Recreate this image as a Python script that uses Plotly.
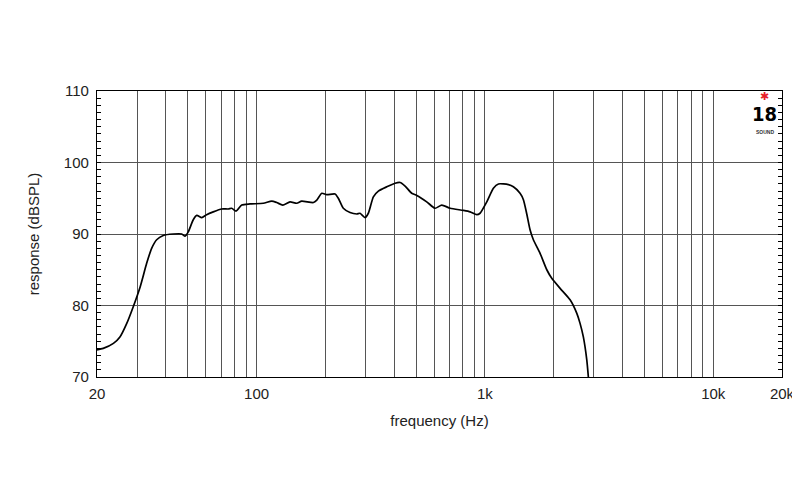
import plotly.graph_objects as go

freq_hz = [20, 21.3, 23.6, 25.2, 27.0, 28.8, 30.9, 33.0, 34.7, 36.5, 39.0, 43.2, 47.0, 48.6,
           50.2, 52.8, 54.7, 57.5, 60.4, 64.6, 70.3, 75.2, 77.8, 81.3, 86.1, 93.6, 107.0,
           116.5, 122.5, 130.2, 140.1, 149.9, 157.6, 177.3, 183.5, 193, 202.8, 220.6, 228,
           239.8, 256.6, 274.5, 283.8, 298.5, 308.6, 324.6, 341.4, 371.6, 404, 425, 447,
           478, 503, 556, 605, 647, 704, 804, 861, 921, 952, 1019, 1089, 1146, 1267, 1332,
           1425, 1474, 1525, 1576, 1630, 1744, 1866, 1962, 2134, 2360, 2526, 2610, 2698,
           2793, 2838]
spl_db = [73.8, 74.0, 74.7, 75.6, 77.5, 79.8, 82.6, 85.9, 88.0, 89.2, 89.8, 90.0, 90.0, 89.7,
          90.3, 92.0, 92.6, 92.3, 92.7, 93.1, 93.5, 93.5, 93.6, 93.2, 94.05, 94.2, 94.3,
          94.6, 94.4, 94.05, 94.5, 94.3, 94.6, 94.4, 94.75, 95.7, 95.5, 95.6, 95.0,
          93.6, 93.0, 92.8, 92.9, 92.3, 92.9, 95.2, 96.0, 96.6, 97.1, 97.2, 96.7,
          95.7, 95.4, 94.5, 93.6, 94.05, 93.6, 93.3, 93.1, 92.7, 92.9, 94.5, 96.4, 97.0, 96.9, 96.6,
          95.7, 94.8, 92.8, 90.6, 89.2, 87.3, 85.0, 83.8, 82.4, 80.8, 78.9, 77.5, 75.6,
          72.4, 70.0]

x_grid = [20, 30, 40, 50, 60, 70, 80, 90, 100, 200, 300, 400, 500, 600, 700, 800, 900,
          1000, 2000, 3000, 4000, 5000, 6000, 7000, 8000, 9000, 10000, 20000]
x_labels = {20: "20", 100: "100", 1000: "1k", 10000: "10k", 20000: "20k"}
y_grid = [70, 80, 90, 100, 110]
y_minor = list(range(70, 111))

fig = go.Figure()
fig.add_trace(go.Scatter(x=freq_hz, y=spl_db, mode="lines",
                         line=dict(color="black", width=1.7, shape="spline", smoothing=0.6),
                         hoverinfo="skip", showlegend=False))
# invisible trace on the secondary y-axis (which carries the horizontal grid lines)
fig.add_trace(go.Scatter(x=[20], y=[70], yaxis="y2", mode="markers",
                         marker=dict(opacity=0), hoverinfo="skip", showlegend=False))

font = dict(family="Liberation Sans, Arial, sans-serif", size=15, color="#222")

# the page body has an 8px margin, so the figure is 792x492 to fill the 800x500 window
fig.update_layout(
    width=792, height=492,
    margin=dict(l=89, r=18, t=83, b=123),
    paper_bgcolor="white", plot_bgcolor="white",
    font=font,
    xaxis=dict(type="log", range=[1.30103, 4.30103], automargin=False,
               tickvals=x_grid, ticktext=[x_labels.get(v, "") for v in x_grid],
               showgrid=True, gridcolor="#555", gridwidth=1,
               showline=True, linecolor="black", linewidth=1.2, mirror=True,
               ticks="", zeroline=False, ticklabelstandoff=3,
               title=dict(text="frequency (Hz)", font=font, standoff=14)),
    yaxis=dict(range=[70, 110], tickvals=y_minor, automargin=False,
               ticktext=[str(v) if v % 10 == 0 else "" for v in y_minor],
               showgrid=False,
               showline=True, linecolor="black", linewidth=1.2, mirror="allticks",
               ticks="inside", ticklen=4, tickwidth=1, tickcolor="black",
               zeroline=False, ticklabelstandoff=4,
               title=dict(text="response (dBSPL)", font=font, standoff=20)),
    yaxis2=dict(range=[70, 110], overlaying="y", side="left", automargin=False,
                tickvals=y_grid, showticklabels=False,
                showgrid=True, gridcolor="#555", gridwidth=1,
                ticks="", showline=False, zeroline=False),
)

# logo
fig.add_annotation(x=0.9745, y=1.01, xref="paper", yref="paper", text="✱", showarrow=False,
                   font=dict(color="#e8202a", size=11), xanchor="center", yanchor="top")
fig.add_annotation(x=0.9745, y=0.97, xref="paper", yref="paper", text="<b>18</b>", showarrow=False,
                   font=dict(family="Liberation Sans Narrow, DejaVu Sans Condensed, Arial Narrow, sans-serif",
                             color="black", size=20),
                   xanchor="center", yanchor="top")
fig.add_annotation(x=0.9745, y=0.875, xref="paper", yref="paper", text="<b>SOUND</b>", showarrow=False,
                   font=dict(family="Liberation Sans", color="#333", size=5),
                   xanchor="center", yanchor="top")

fig.write_html("out.html")
